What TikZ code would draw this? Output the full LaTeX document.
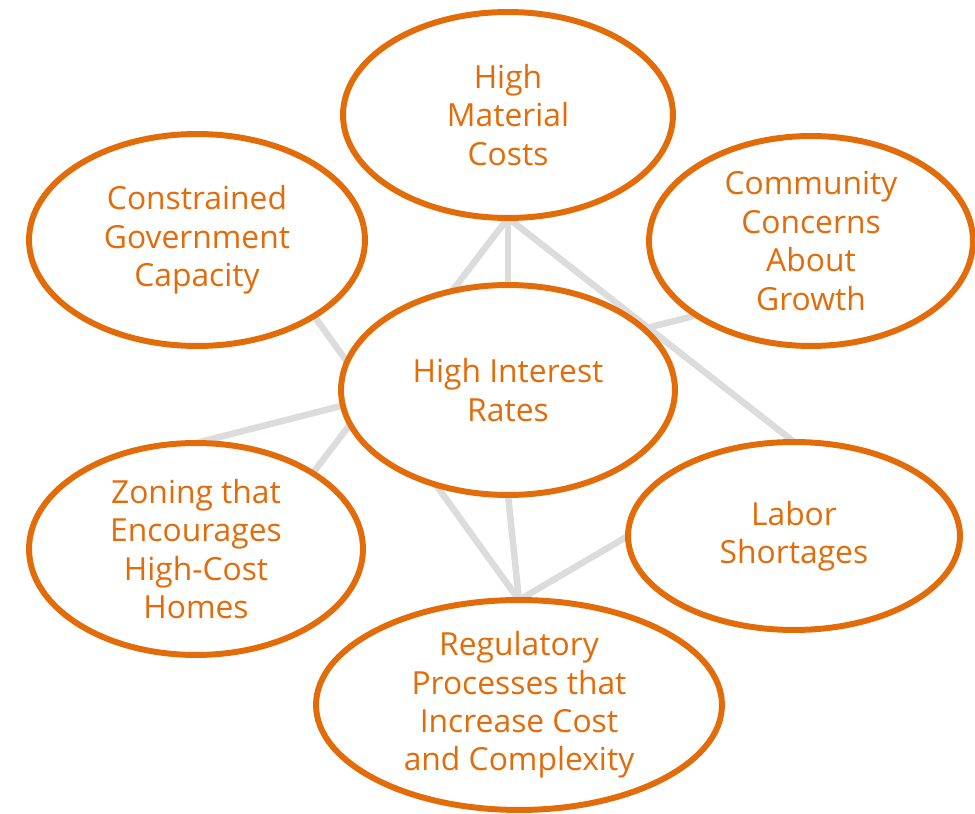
\documentclass[tikz,border=0pt]{standalone}
\usepackage{fontspec}
\setmainfont{Open Sans}
\usepackage{tikz}
\usetikzlibrary{shapes.geometric, backgrounds}
\definecolor{barrier}{HTML}{E36C0A}
\definecolor{linkgray}{HTML}{DCDCDC}
\tikzstyle{bubble} = [ellipse, inner sep=0pt, outer sep=0pt, align=center, draw=barrier, line width=3.4pt, fill=white, text=barrier, font=\fontsize{18.1}{21.9}\selectfont]
\tikzstyle{link} = [draw=linkgray, line width=3.7pt]

\begin{document}
\begin{tikzpicture}[x=0.02cm, y=-0.02cm]
\useasboundingbox (0,0) rectangle (975,814);
\node (hmc) [bubble, minimum width=6.6cm, minimum height=4.12cm] at (508,115) {High\\Material\\Costs};
\node (cgc) [bubble, minimum width=6.72cm, minimum height=4.24cm] at (197,240) {Constrained\\Government\\Capacity};
\node (com) [bubble, minimum width=6.48cm, minimum height=4.2cm] at (811,241) {Community\\Concerns\\About\\Growth};
\node (hir) [bubble, minimum width=6.68cm, minimum height=4.2cm] at (508,390) {High Interest\\Rates};
\node (zon) [bubble, minimum width=6.68cm, minimum height=4.24cm] at (196,549) {Zoning that\\Encourages\\High-Cost\\Homes};
\node (lab) [bubble, minimum width=6.64cm, minimum height=3.76cm] at (794,536) {Labor\\Shortages};
\node (reg) [bubble, minimum width=8.12cm, minimum height=4.2cm] at (519,705) {Regulatory\\Processes that\\Increase Cost\\and Complexity};
\begin{scope}[on background layer]
\draw [link] (hmc.south) -- (hir.north);
\draw [link] (hmc.south) -- (zon.33);
\draw [link] (hmc.south) -- (lab.north);
\draw [link] (cgc.-33) -- (reg.north);
\draw [link] (zon.north) -- (com.213);
\draw [link] (hir.south) -- (reg.north);
\draw [link] (lab.west) -- (reg.north);
\end{scope}
\end{tikzpicture}
\end{document}
